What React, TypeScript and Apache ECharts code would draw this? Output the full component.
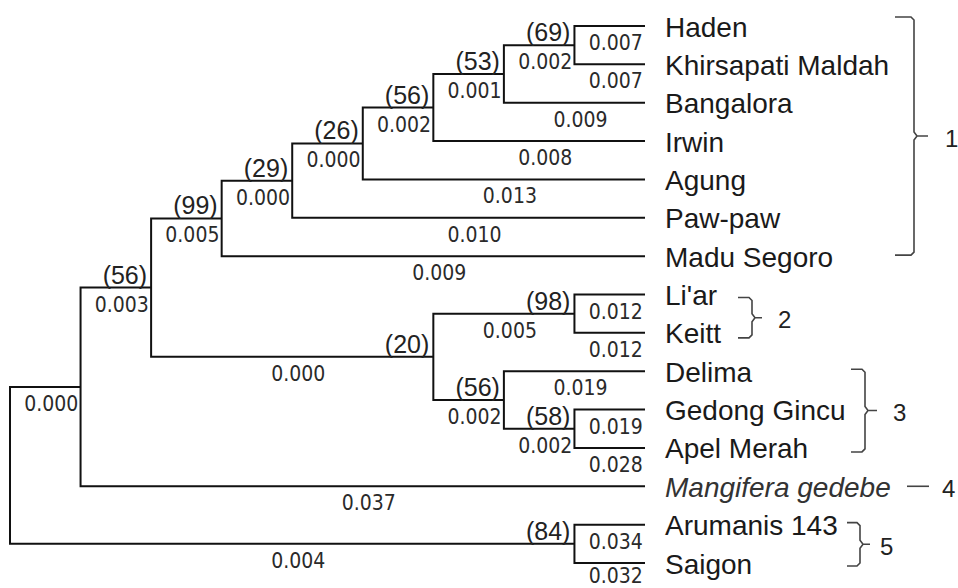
import React, { useEffect, useRef } from "react";
import * as echarts from "echarts";

// ---------- DATA ----------
const leafNames = [
  "Haden",
  "Khirsapati Maldah",
  "Bangalora",
  "Irwin",
  "Agung",
  "Paw-paw",
  "Madu Segoro",
  "Li'ar",
  "Keitt",
  "Delima",
  "Gedong Gincu",
  "Apel Merah",
  "Mangifera gedebe",
  "Arumanis 143",
  "Saigon",
];
const leafBranchLengths = [
  "0.007", "0.007", "0.009", "0.008", "0.013", "0.010", "0.009",
  "0.012", "0.012", "0.019", "0.019", "0.028", "0.037", "0.034", "0.032",
];
const italicLeaves = ["Mangifera gedebe"];

const nodeIds = ["H", "G", "F", "E", "D", "C", "L", "K", "J", "I", "B", "A", "S", "root"];
const nodeChildren = [
  ["Haden", "Khirsapati Maldah"],
  ["H", "Bangalora"],
  ["G", "Irwin"],
  ["F", "Agung"],
  ["E", "Paw-paw"],
  ["D", "Madu Segoro"],
  ["Li'ar", "Keitt"],
  ["Gedong Gincu", "Apel Merah"],
  ["Delima", "K"],
  ["L", "J"],
  ["C", "I"],
  ["B", "Mangifera gedebe"],
  ["Arumanis 143", "Saigon"],
  ["A", "S"],
];
const nodeBootstrap = ["(69)", "(53)", "(56)", "(26)", "(29)", "(99)", "(98)", "(58)", "(56)", "(20)", "(56)", "", "(84)", ""];
const nodeBranchLengths = ["0.002", "0.001", "0.002", "0.000", "0.000", "0.005", "0.005", "0.002", "0.002", "0.000", "0.003", "0.000", "0.004", ""];

const groupLabels = ["1", "2", "3", "4", "5"];
const groupFirstLeaf = ["Haden", "Li'ar", "Delima", "Mangifera gedebe", "Arumanis 143"];
const groupLastLeaf = ["Madu Segoro", "Keitt", "Apel Merah", "Mangifera gedebe", "Saigon"];

// ---------- LAYOUT / STYLE ----------
const W = 958;
const H = 588;
const GRID = { left: 10, top: 26, width: 635, height: 537 };
const LEAF_GAP = 20;
const BRACKETS = [
  { left: 895, vert: 914, tip: 928, labelX: 945, topPad: 9, botPad: -1 },
  { left: 738, vert: 752, tip: 762, labelX: 778, topPad: -3, botPad: 5 },
  { left: 851, vert: 865, tip: 877, labelX: 893, topPad: 2, botPad: 4 },
  { left: 907, vert: 929, tip: 929, labelX: 942, topPad: 0, botPad: 0 },
  { left: 847, vert: 860, tip: 870, labelX: 880, topPad: 2, botPad: 3 },
];
const LINE_COLOR = "#111111";
const BRACKET_COLOR = "#444444";
const LEAF_FONT = '28px "Liberation Sans", Arial, sans-serif';
const LEAF_FONT_IT = 'italic 28px "Liberation Sans", Arial, sans-serif';
const BOOT_FONT = '25px "Liberation Sans", Arial, sans-serif';
const LEN_FONT = '21px "DejaVu Sans Condensed", "DejaVu Sans", sans-serif';
const GROUP_FONT = '24px "Liberation Sans", Arial, sans-serif';

export default function App() {
  const ref = useRef<HTMLDivElement>(null);

  useEffect(() => {
    const el = ref.current;
    if (!el) return;
    const chart = echarts.init(el, null, { renderer: "svg" });

    const leafIndex: Record<string, number> = {};
    leafNames.forEach((n, i) => (leafIndex[n] = i));
    const nodeIdx: Record<string, number> = {};
    nodeIds.forEach((n, i) => (nodeIdx[n] = i));
    const height: Record<string, number> = {};
    const yPos: Record<string, number> = {};
    const parent: Record<string, string> = {};
    nodeIds.forEach((id, i) => nodeChildren[i].forEach((c) => (parent[c] = id)));

    const compute = (id: string) => {
      if (id in leafIndex) {
        height[id] = 0;
        yPos[id] = leafIndex[id];
        return;
      }
      const ch = nodeChildren[nodeIdx[id]];
      ch.forEach(compute);
      height[id] = Math.max(...ch.map((c) => height[c])) + 1;
      yPos[id] = (yPos[ch[0]] + yPos[ch[1]]) / 2;
    };
    compute("root");
    const maxH = height["root"];
    const xPos = (id: string) => maxH - height[id];

    const elbowData = nodeIds.map((id, i) => {
      const [a, b] = nodeChildren[i];
      return [xPos(id), xPos(a), yPos[a], xPos(b), yPos[b]];
    });

    type Br = { name: string; len: string; boot: string; leaf: boolean };
    const branches: Br[] = [];
    const branchData: number[][] = [];
    leafNames.forEach((n, i) => {
      branches.push({ name: n, len: leafBranchLengths[i], boot: "", leaf: true });
      branchData.push([xPos(parent[n]), xPos(n), yPos[n]]);
    });
    nodeIds.forEach((id, i) => {
      if (id === "root") return;
      branches.push({ name: id, len: nodeBranchLengths[i], boot: nodeBootstrap[i], leaf: false });
      branchData.push([xPos(parent[id]), xPos(id), yPos[id]]);
    });

    const groupData = groupLabels.map((_, i) => [leafIndex[groupFirstLeaf[i]], leafIndex[groupLastLeaf[i]]]);

    chart.setOption({
      animation: false,
      backgroundColor: "#ffffff",
      grid: { ...GRID },
      xAxis: { type: "value", min: 0, max: maxH, show: false },
      yAxis: { type: "value", min: 0, max: leafNames.length - 1, inverse: true, show: false },
      series: [
        {
          type: "custom",
          coordinateSystem: "cartesian2d",
          clip: false,
          silent: true,
          data: elbowData,
          renderItem: (params: any, api: any) => {
            const nx = api.value(0), ax = api.value(1), ay = api.value(2), bx = api.value(3), by = api.value(4);
            const p1 = api.coord([ax, ay]);
            const p2 = api.coord([nx, ay]);
            const p3 = api.coord([nx, by]);
            const p4 = api.coord([bx, by]);
            return {
              type: "polyline",
              shape: { points: [p1, p2, p3, p4] },
              style: { stroke: LINE_COLOR, lineWidth: 2, fill: null },
            };
          },
        },
        {
          type: "custom",
          coordinateSystem: "cartesian2d",
          clip: false,
          silent: true,
          data: branchData,
          renderItem: (params: any, api: any) => {
            const b = branches[params.dataIndex];
            const px = api.value(0), nx = api.value(1), ny = api.value(2);
            const p0 = api.coord([px, ny]);
            const p1 = api.coord([nx, ny]);
            const children: any[] = [];
            if (b.len) {
              children.push({
                type: "text",
                style: {
                  text: b.len,
                  x: (p0[0] + p1[0]) / 2 + 6,
                  y: Math.min(p1[1] + 17, H - 12),
                  font: LEN_FONT,
                  fill: "#2a2a2a",
                  align: "center",
                  verticalAlign: "middle",
                },
              });
            }
            if (b.boot) {
              children.push({
                type: "text",
                style: {
                  text: b.boot,
                  x: p1[0] - 4,
                  y: p1[1] - 13,
                  font: BOOT_FONT,
                  fill: "#222222",
                  align: "right",
                  verticalAlign: "middle",
                },
              });
            }
            if (b.leaf) {
              const it = italicLeaves.includes(b.name);
              children.push({
                type: "text",
                style: {
                  text: b.name,
                  x: p1[0] + LEAF_GAP,
                  y: p1[1] + 1,
                  font: it ? LEAF_FONT_IT : LEAF_FONT,
                  fill: it ? "#333333" : "#1a1a1a",
                  align: "left",
                  verticalAlign: "middle",
                },
              });
            }
            return { type: "group", children };
          },
        },
        {
          type: "custom",
          coordinateSystem: "cartesian2d",
          clip: false,
          silent: true,
          data: groupData,
          renderItem: (params: any, api: any) => {
            const i = params.dataIndex;
            const L = BRACKETS[i];
            const y0 = api.coord([0, api.value(0)])[1];
            const y1 = api.coord([0, api.value(1)])[1];
            const children: any[] = [];
            let nub: number;
            if (y0 === y1) {
              nub = y0;
              children.push({
                type: "line",
                shape: { x1: L.left, y1: nub, x2: L.vert, y2: nub },
                style: { stroke: BRACKET_COLOR, lineWidth: 1.6 },
              });
            } else {
              const top = y0 - L.topPad;
              const bot = y1 + L.botPad;
              nub = (top + bot) / 2;
              const v = L.vert;
              children.push({
                type: "polyline",
                shape: {
                  points: [
                    [L.left, top],
                    [v - 3, top],
                    [v, top + 3],
                    [v, nub - 4],
                    [v + 3, nub],
                    [L.tip, nub],
                    [v + 3, nub],
                    [v, nub + 4],
                    [v, bot - 3],
                    [v - 3, bot],
                    [L.left, bot],
                  ],
                },
                style: { stroke: BRACKET_COLOR, lineWidth: 1.6, fill: null },
              });
            }
            children.push({
              type: "text",
              style: {
                text: groupLabels[i],
                x: L.labelX,
                y: nub + 2,
                font: GROUP_FONT,
                fill: "#222222",
                align: "left",
                verticalAlign: "middle",
              },
            });
            return { type: "group", children };
          },
        },
      ],
    });

    return () => {
      chart.dispose();
    };
  }, []);

  return (
    <div
      ref={ref}
      style={{ position: "fixed", left: 0, top: 0, width: W, height: H, background: "#ffffff" }}
    />
  );
}
